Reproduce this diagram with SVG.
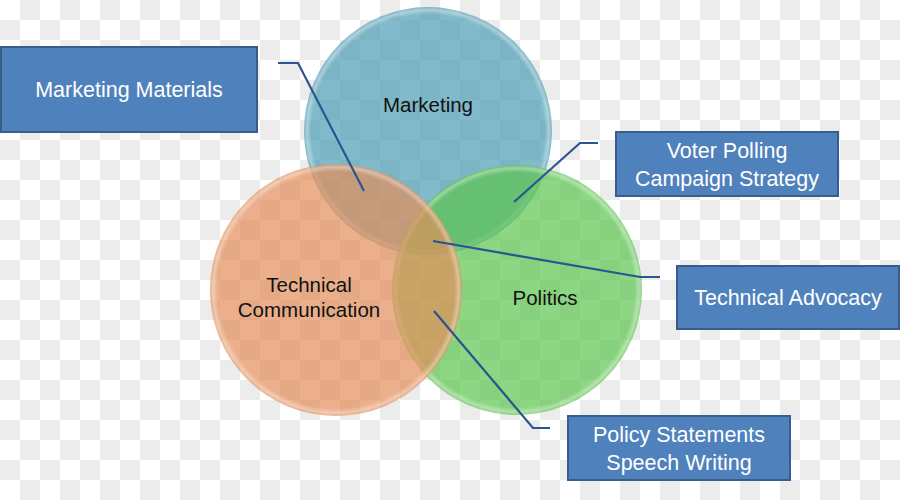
<svg xmlns="http://www.w3.org/2000/svg" width="900" height="500" viewBox="0 0 900 500">
<defs>
<pattern id="checker" x="0" y="0" width="40" height="40" patternUnits="userSpaceOnUse">
<rect width="40" height="40" fill="#ffffff"/>
<rect x="20" y="0" width="20" height="20" fill="#ececec"/>
<rect x="0" y="20" width="20" height="20" fill="#ececec"/>
</pattern>
<radialGradient id="gloss" cx="0.5" cy="0.5" r="0.5">
<stop offset="0.94" stop-color="#ffffff" stop-opacity="0"/>
<stop offset="0.975" stop-color="#ffffff" stop-opacity="0.35"/>
<stop offset="1" stop-color="#ffffff" stop-opacity="0"/>
</radialGradient>
</defs>
<style>
.circle{opacity:0.7}
.rim{fill:url(#gloss)}
.ctext{font-family:"Liberation Sans",Arial,sans-serif;font-size:20.5px;fill:#111111;text-anchor:middle}
.box{fill:#4f81bd;stroke:#385d8a;stroke-width:2}
.btext{font-family:"Liberation Sans",Arial,sans-serif;font-size:21.5px;fill:#ffffff;text-anchor:middle}
.conn{fill:none;stroke:#2c5491;stroke-width:2.2}
</style>
<rect width="900" height="500" fill="url(#checker)"/>
<g id="marketing">
<circle class="circle" cx="428" cy="131" r="124" fill="#4c9db3"/>
<circle class="rim" cx="428" cy="131" r="124"/>
<text class="ctext" x="428" y="112">Marketing</text>
</g>
<g id="politics">
<circle class="circle" cx="517" cy="290" r="125" fill="#5dc44f"/>
<circle class="rim" cx="517" cy="290" r="125"/>
<text class="ctext" x="545" y="305">Politics</text>
</g>
<g id="techcomm">
<circle class="circle" cx="336" cy="290" r="126" fill="#e28f5a"/>
<circle class="rim" cx="336" cy="290" r="126"/>
<text class="ctext" x="309" y="292">Technical</text>
<text class="ctext" x="309" y="317">Communication</text>
</g>
<g id="connectors">
<polyline class="conn" points="278,63 298,63 364,191"/>
<polyline class="conn" points="598,143 580,143 514,202"/>
<polyline class="conn" points="433,241 640,277 660,277"/>
<polyline class="conn" points="434,311 533,428 550,428"/>
</g>
<g id="box-marketing-materials">
<rect class="box" x="1" y="47" width="256" height="85"/>
<text class="btext" x="129" y="97">Marketing Materials</text>
</g>
<g id="box-voter">
<rect class="box" x="616" y="132" width="222" height="64"/>
<text class="btext" x="727" y="158">Voter Polling</text>
<text class="btext" x="727" y="186">Campaign Strategy</text>
</g>
<g id="box-advocacy">
<rect class="box" x="677" y="266" width="222" height="63"/>
<text class="btext" x="788" y="305">Technical Advocacy</text>
</g>
<g id="box-policy">
<rect class="box" x="568" y="416" width="222" height="64"/>
<text class="btext" x="679" y="442">Policy Statements</text>
<text class="btext" x="679" y="470">Speech Writing</text>
</g>
</svg>
